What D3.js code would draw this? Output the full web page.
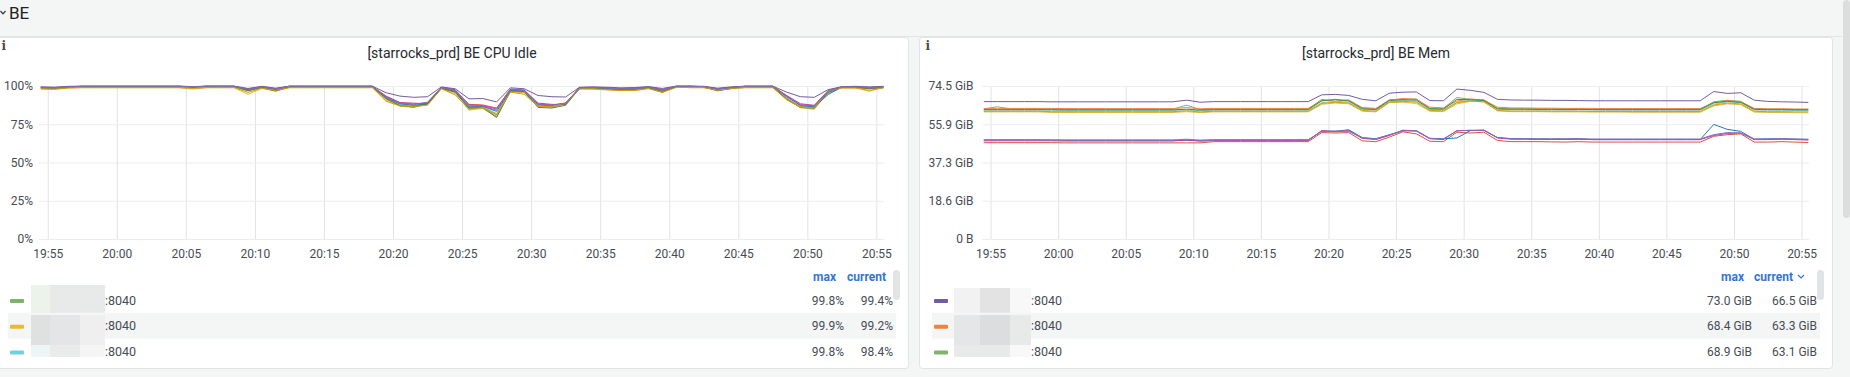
<!DOCTYPE html>
<html lang="en">
<head>
<meta charset="utf-8">
<title>BE</title>
<script src="https://d3js.org/d3.v7.min.js"></script>
<style>
  body { margin: 0; background: #f4f5f5; overflow: hidden; }
  svg { display: block; font-family: Roboto, "Noto Sans", sans-serif; }
</style>
</head>
<body>
<script>

// one sample per minute, starting 19:54:30
var startTime = new Date(2023, 0, 1, 19, 54, 30);
var stepMs = 60 * 1000;
var domainStart = new Date(2023, 0, 1, 19, 54, 22);
var domainEnd = new Date(2023, 0, 1, 20, 55, 33);

var timeTicks = ["19:55", "20:00", "20:05", "20:10", "20:15", "20:20", "20:25",
                 "20:30", "20:35", "20:40", "20:45", "20:50", "20:55"];

// BE hosts: names are masked in the source, only the port shows
var hostColors = ["#7EB26D", "#EAB839", "#6ED0E0", "#EF843C", "#E24D42", "#1F78C1",
                  "#BA43A9", "#705DA0", "#508642", "#CCA300", "#806EB7"];
var hostLabels = [":8040", ":8040", ":8040", ":8040", ":8040", ":8040",
                  ":8040", ":8040", ":8040", ":8040", ":8040"];

// ---- CPU idle (%) ----
var cpuTicks = [0, 25, 50, 75, 100];
var cpuTickLabels = ["0%", "25%", "50%", "75%", "100%"];

var cpu01 = [98.6,98.2,99.2,99.6,99.6,99.6,99.6,99.6,99.6,99.6,
             99.6,99.2,99.8,99.6,99.6,97.2,99.0,97.0,99.4,99.6,
             99.6,99.6,99.6,99.6,99.6,92.0,87.6,86.4,89.0,98.6,
             96.4,85.2,86.0,80.2,96.8,96.2,87.0,86.2,88.4,98.4,
             98.6,98.2,97.6,97.4,98.8,96.6,99.6,99.6,99.4,97.2,
             98.6,99.6,99.6,99.6,92.0,86.6,85.4,96.4,99.2,99.2,
             98.2,99.4];
var cpu02 = [98.0,97.8,98.6,98.8,98.8,98.8,98.8,98.8,98.8,98.8,
             98.8,98.0,98.8,98.8,98.8,94.6,98.4,96.8,98.8,98.8,
             98.8,98.8,98.8,98.8,98.8,90.6,86.8,86.0,88.2,98.2,
             95.0,84.2,85.4,79.8,96.2,95.6,86.4,86.6,88.0,98.0,
             98.0,97.4,97.2,97.0,98.2,96.0,99.9,98.8,98.8,97.6,
             98.2,98.8,98.8,98.8,91.2,85.8,84.8,95.6,98.6,98.6,
             96.6,99.2];
var cpu03 = [99.2,98.6,99.4,99.6,99.6,99.6,99.6,99.6,99.6,99.6,
             99.6,99.4,99.8,99.8,99.8,97.4,99.2,97.8,99.6,99.6,
             99.6,99.6,99.6,99.6,99.6,92.6,88.0,87.0,89.2,98.8,
             96.8,86.0,86.4,82.0,97.4,96.6,87.6,86.8,88.6,98.6,
             98.8,98.4,97.8,98.0,99.0,97.0,99.6,99.8,99.4,97.8,
             98.8,99.6,99.6,99.6,92.6,87.2,86.2,95.0,99.2,99.2,
             98.6,98.4];
var cpu04 = [98.4,98.2,99.0,99.4,99.4,99.4,99.4,99.4,99.4,99.4,
             99.4,99.0,99.4,99.4,99.4,96.8,98.8,97.2,99.2,99.4,
             99.4,99.4,99.4,99.4,99.4,91.4,87.2,86.8,88.6,98.4,
             95.8,85.8,86.0,81.2,96.6,96.0,86.8,86.4,88.2,98.2,
             98.2,97.8,97.2,97.6,98.6,95.8,99.4,99.4,99.2,97.4,
             98.4,99.4,99.4,99.4,91.6,86.4,85.8,96.2,99.0,99.0,
             98.0,99.0];
var cpu05 = [98.8,98.4,99.2,99.6,99.6,99.6,99.6,99.6,99.6,99.6,
             99.6,99.4,99.6,99.6,99.6,97.8,99.2,97.6,99.6,99.6,
             99.6,99.6,99.6,99.6,99.6,93.0,89.0,88.2,89.0,99.0,
             97.2,88.0,87.6,85.6,97.8,97.0,88.2,87.6,88.6,98.8,
             98.8,98.4,98.0,97.8,99.0,97.0,99.6,99.6,99.4,97.8,
             98.8,99.6,99.6,99.6,93.0,87.8,87.0,96.8,99.2,99.2,
             98.4,99.2];
var cpu06 = [99.0,98.8,99.4,99.8,99.8,99.8,99.8,99.8,99.8,99.8,
             99.8,99.6,99.8,99.8,99.8,97.6,99.4,98.0,99.8,99.8,
             99.8,99.8,99.8,99.8,99.8,92.4,88.4,87.4,88.2,98.8,
             96.4,86.4,86.8,83.4,97.0,97.2,87.8,87.0,88.8,98.8,
             99.0,98.6,98.0,98.4,99.2,97.4,99.8,99.8,99.6,98.0,
             99.0,99.8,99.8,99.8,93.6,87.2,86.4,94.4,99.4,99.4,
             98.8,99.4];
var cpu07 = [99.2,99.0,99.6,99.8,99.8,99.8,99.8,99.8,99.8,99.8,
             99.8,99.4,99.8,99.8,99.8,98.0,99.6,98.2,99.8,99.8,
             99.8,99.8,99.8,99.8,99.8,93.4,89.2,88.8,88.4,99.2,
             97.6,87.6,87.2,85.0,98.0,97.4,88.8,88.0,88.0,99.0,
             99.2,98.8,98.4,98.6,99.4,97.8,99.8,99.8,99.6,98.2,
             99.2,99.8,99.8,99.8,93.8,88.4,87.4,97.0,99.4,99.6,
             99.0,99.6];
var cpu08 = [99.4,99.2,99.8,99.9,99.9,99.9,99.9,99.9,99.9,99.9,
             99.9,99.6,99.9,99.9,99.9,98.4,99.8,98.6,99.9,99.9,
             99.9,99.9,99.9,99.9,99.9,95.6,93.4,92.6,93.0,99.4,
             98.2,91.6,91.8,89.6,98.8,98.2,93.8,93.0,92.8,99.2,
             99.4,99.2,98.8,99.0,99.6,98.4,99.9,99.9,99.8,98.6,
             99.4,99.9,99.9,99.9,96.0,93.0,92.6,97.6,99.6,99.8,
             99.4,99.8];
var cpu09 = [98.8,98.4,99.2,99.6,99.6,99.6,99.6,99.6,99.6,99.6,
             99.6,99.2,99.6,99.6,99.6,97.0,99.0,96.6,99.4,99.6,
             99.6,99.6,99.6,99.6,99.6,91.8,87.2,86.2,88.6,98.6,
             96.0,85.6,85.8,79.4,96.8,96.4,86.0,85.6,87.4,98.4,
             98.6,98.0,97.4,97.6,98.8,96.4,99.6,99.6,99.4,96.8,
             98.4,99.6,99.6,99.6,91.4,86.0,85.4,95.8,99.2,99.2,
             98.4,99.2];
var cpu10 = [98.2,98.0,98.8,99.0,99.0,99.0,99.0,99.0,99.0,99.0,
             99.0,98.4,99.0,99.0,99.0,95.8,98.6,97.0,99.0,99.0,
             99.0,99.0,99.0,99.0,99.0,90.0,87.0,86.6,87.4,98.2,
             94.2,84.8,85.8,81.4,96.0,94.6,86.8,86.8,88.8,98.2,
             98.2,97.6,97.0,97.2,98.4,95.8,99.0,99.0,99.0,97.2,
             98.4,99.0,99.0,99.0,91.0,86.2,85.6,96.6,98.8,98.8,
             97.0,98.8];
var cpu11 = [99.0,98.8,99.4,99.8,99.8,99.8,99.8,99.8,99.8,99.8,
             99.8,99.4,99.8,99.8,99.8,97.8,99.4,98.0,99.8,99.8,
             99.8,99.8,99.8,99.8,99.8,92.8,88.6,88.0,89.4,99.0,
             97.0,87.0,86.8,84.2,97.6,96.8,88.0,87.4,89.0,98.8,
             99.0,98.6,98.2,98.2,99.2,97.2,99.8,99.8,99.6,98.0,
             99.0,99.8,99.8,99.8,93.2,87.6,86.8,96.4,99.4,99.4,
             98.8,99.4];

// ---- memory used (GiB) ----
var memTicks = [0, 18.625, 37.25, 55.875, 74.5];
var memTickLabels = ["0 B", "18.6 GiB", "37.3 GiB", "55.9 GiB", "74.5 GiB"];

var mem01 = [63.3,64.4,63.3,63.3,63.3,63.3,63.2,63.2,63.2,63.2,
             63.2,63.2,63.2,63.2,63.2,65.2,63.0,63.3,63.3,63.3,
             63.3,63.3,63.3,63.3,63.3,68.0,67.0,67.8,63.8,63.3,
             67.8,68.0,68.2,63.6,63.6,68.9,68.0,67.8,63.6,63.4,
             63.4,63.4,63.3,63.3,63.4,63.2,63.2,63.2,63.2,63.2,
             63.2,63.2,63.2,63.2,66.8,67.6,67.0,63.4,63.2,63.2,
             63.1,63.1];
var mem02 = [61.9,61.9,61.9,61.9,61.9,61.6,61.6,61.6,61.6,61.6,
             61.6,61.6,61.6,61.6,61.6,62.0,61.5,61.9,61.9,61.9,
             61.9,61.9,61.9,61.9,61.9,65.6,66.2,65.8,62.2,61.9,
             66.4,66.6,66.0,62.2,62.0,65.8,67.0,66.8,62.4,62.0,
             62.0,62.0,61.9,61.9,61.9,61.8,61.8,61.8,61.7,61.7,
             61.7,61.7,61.7,61.7,64.8,65.8,65.4,61.8,61.6,61.6,
             61.5,61.5];
var mem03 = [62.7,62.7,62.7,62.7,62.7,62.7,62.6,62.6,62.6,62.6,
             62.6,62.6,62.6,62.6,62.6,62.8,62.5,62.7,62.7,62.7,
             62.7,62.7,62.7,62.7,62.7,66.4,67.0,66.6,63.0,62.8,
             66.8,67.4,67.0,63.0,62.9,66.6,67.6,67.2,63.2,62.9,
             62.9,62.8,62.8,62.8,62.8,62.8,62.7,62.7,62.7,62.7,
             62.7,62.7,62.7,62.7,65.6,66.8,66.4,62.8,62.7,62.7,
             62.6,62.6];
var mem04 = [63.6,63.6,63.6,63.6,63.6,63.6,63.5,63.5,63.5,63.5,
             63.5,63.5,63.5,63.5,63.5,64.0,63.4,63.6,63.6,63.6,
             63.6,63.6,63.6,63.6,63.6,67.2,68.0,67.4,64.0,63.6,
             67.6,68.4,68.0,64.2,63.8,67.2,68.2,67.6,64.2,63.8,
             63.8,63.7,63.7,63.6,63.6,63.6,63.5,63.5,63.5,63.5,
             63.5,63.5,63.5,63.5,66.2,67.4,66.8,63.6,63.4,63.4,
             63.3,63.3];
var mem05 = [46.9,46.9,46.9,46.9,46.9,46.9,46.8,46.8,46.8,46.8,
             46.8,46.8,46.8,46.8,46.8,46.8,46.8,47.4,47.4,47.4,
             47.4,47.4,47.4,47.4,47.4,51.8,51.6,51.8,47.8,47.4,
             49.6,52.2,51.2,47.6,47.4,52.0,51.6,52.0,48.0,47.4,
             47.4,47.4,47.3,47.2,47.4,47.2,47.2,47.2,47.2,47.2,
             47.2,47.2,47.2,47.2,50.0,50.8,51.2,47.2,47.2,47.4,
             47.2,47.0];
var mem06 = [48.2,48.2,48.2,48.2,48.2,48.2,48.1,48.1,48.1,48.1,
             48.1,48.1,48.1,48.1,48.1,48.0,48.0,48.2,48.2,48.2,
             48.2,48.2,48.2,48.2,48.2,52.6,52.4,53.2,49.4,48.8,
             50.6,52.8,52.6,49.0,48.8,49.2,52.8,53.0,49.4,48.8,
             48.8,48.6,48.6,48.6,48.6,48.4,48.4,48.4,48.4,48.4,
             48.4,48.4,48.4,48.4,55.8,53.4,52.4,48.6,48.6,48.8,
             48.6,48.4];
var mem07 = [47.8,47.8,47.8,47.8,47.8,47.8,47.7,47.7,47.7,47.7,
             47.7,47.7,47.7,47.7,47.7,48.2,47.6,47.9,47.9,47.9,
             47.9,47.9,47.9,47.9,47.9,52.8,52.2,52.8,49.0,48.4,
             50.4,53.0,52.6,48.8,48.4,52.8,52.8,53.0,49.2,48.6,
             48.6,48.5,48.5,48.5,48.6,48.4,48.4,48.4,48.4,48.4,
             48.4,48.4,48.4,48.4,50.4,51.4,51.6,48.4,48.4,48.6,
             48.4,48.2];
var mem08 = [66.9,66.9,66.9,66.9,66.9,66.8,66.8,66.8,66.8,66.8,
             66.8,66.8,66.8,66.8,66.8,67.6,66.6,66.9,66.9,66.9,
             66.9,66.9,66.9,66.9,66.9,70.2,70.4,69.9,68.0,67.3,
             71.0,71.5,71.6,67.4,67.3,73.0,72.4,71.4,68.0,67.7,
             67.6,67.6,67.5,67.5,67.4,67.3,67.3,67.3,67.3,67.3,
             67.3,67.3,67.3,67.3,71.8,70.9,71.2,67.6,67.0,66.8,
             66.7,66.5];
var mem09 = [63.0,63.0,63.0,63.0,63.0,63.0,62.9,62.9,62.9,62.9,
             62.9,62.9,62.9,62.9,62.9,63.2,62.8,63.0,63.0,63.0,
             63.0,63.0,63.0,63.0,63.0,67.4,67.8,67.2,63.4,63.0,
             67.4,67.8,67.6,63.4,63.2,68.0,67.8,67.4,63.4,63.2,
             63.2,63.1,63.1,63.0,63.1,63.0,63.0,63.0,63.0,63.0,
             63.0,63.0,63.0,63.0,66.4,67.0,66.6,63.1,63.0,63.0,
             62.9,62.9];
var mem10 = [62.2,62.2,62.2,62.2,62.2,62.0,62.0,62.0,62.0,62.0,
             62.0,62.0,62.0,62.0,62.0,62.4,61.9,62.2,62.2,62.2,
             62.2,62.2,62.2,62.2,62.2,66.0,66.6,66.2,62.6,62.2,
             66.6,67.0,66.6,62.6,62.4,66.4,67.2,66.8,62.6,62.3,
             62.3,62.3,62.2,62.2,62.2,62.1,62.1,62.1,62.1,62.1,
             62.1,62.1,62.1,62.1,65.2,66.2,65.8,62.2,62.0,62.0,
             61.9,61.9];
var mem11 = [48.3,48.3,48.3,48.3,48.3,48.2,48.2,48.2,48.2,48.2,
             48.2,48.2,48.2,48.2,48.2,48.6,48.1,48.3,48.3,48.3,
             48.3,48.3,48.3,48.3,48.3,52.4,52.6,52.4,49.2,48.8,
             50.8,52.6,52.8,49.0,48.8,52.6,53.0,52.8,49.4,48.9,
             48.9,48.8,48.8,48.8,48.9,48.7,48.7,48.7,48.7,48.7,
             48.7,48.7,48.7,48.7,50.8,51.8,51.6,48.7,48.8,48.8,
             48.7,48.6];

var cpuSeries = [cpu01, cpu02, cpu03, cpu04, cpu05, cpu06, cpu07, cpu08, cpu09, cpu10, cpu11];
var memSeries = [mem01, mem02, mem03, mem04, mem05, mem06, mem07, mem08, mem09, mem10, mem11];

var W = 1850, H = 377;
var plotTop = 86, plotBottom = 239;

var svg = d3.select("body").append("svg")
    .attr("width", W)
    .attr("height", H);

svg.append("rect").attr("width", W).attr("height", H).attr("fill", "#f4f5f5");

// row header "BE"
svg.append("path")
    .attr("d", "M0.5,11 L3,13.8 L5.5,11")
    .attr("fill", "none").attr("stroke", "#333").attr("stroke-width", 1.2);
svg.append("text")
    .attr("x", 9).attr("y", 18.5)
    .attr("font-size", 17).attr("fill", "#202226")
    .text("BE");
svg.append("line")
    .attr("x1", 0).attr("x2", 1842).attr("y1", 36.5).attr("y2", 36.5)
    .attr("stroke", "#e3e5e5");

// page scrollbar
svg.append("rect")
    .attr("x", 1843).attr("y", 0).attr("width", 7).attr("height", 218)
    .attr("rx", 3.5).attr("fill", "#dcdddd");

var parseHM = d3.timeParse("%H:%M");
var tickDates = timeTicks.map(function(s) {
    var t = parseHM(s);
    return new Date(2023, 0, 1, t.getHours(), t.getMinutes());
});

function timeAt(i) {
    return new Date(startTime.getTime() + i * stepMs);
}

var panels = [
    {
        left: -5, width: 914, plotL: 39, plotR: 884, yPad: 6,
        title: "[starrocks_prd] BE CPU Idle",
        series: cpuSeries, yMax: 100, ticks: cpuTicks, tickLabels: cpuTickLabels,
        fmt: function(v) { return v.toFixed(1) + "%"; },
        sortByCurrent: false,
        maxX: 844, curX: 893, headMaxX: 836, headCurX: 886, chevron: false,
        mosaicX: [31, 50, 80, 105], textX: 105,
        mosaic: [["#ebf3ea", "#e8e9e9", "#e8e9e9"],
                 ["#dfe0e0", "#e4e5e7", "#efefef"],
                 ["#eef6f5", "#e9eaea", "#f5f5f5"]],
        mosaicTop: 285
    },
    {
        left: 919, width: 914, plotL: 982, plotR: 1809, yPad: 8.5,
        title: "[starrocks_prd] BE Mem",
        series: memSeries, yMax: 74.5, ticks: memTicks, tickLabels: memTickLabels,
        fmt: function(v) { return v.toFixed(1) + " GiB"; },
        sortByCurrent: true,
        maxX: 1752, curX: 1817, headMaxX: 1744, headCurX: 1793, chevron: true,
        mosaicX: [954, 980, 1010, 1031], textX: 1031,
        mosaic: [["#f2f2f2", "#e3e3e3", "#f8f8f8"],
                 ["#e5e6e7", "#dcdddf", "#e8e9e9"],
                 ["#e8e9e9", "#e8e9e9", "#f8f8f8"]],
        mosaicTop: 288
    }
];

panels.forEach(function(p, pi) {
    var g = svg.append("g");
    var right = p.left + p.width;

    g.append("rect")
        .attr("x", p.left + 0.5).attr("y", 37.5)
        .attr("width", p.width - 1).attr("height", 331)
        .attr("rx", 3)
        .attr("fill", "#fff").attr("stroke", "#e1e4e4");

    // info icon
    g.append("text")
        .attr("x", p.left + 6.5).attr("y", 50)
        .attr("font-family", "DejaVu Serif")
        .attr("font-weight", "bold").attr("font-size", 12)
        .attr("fill", "#4a4a4a")
        .text("i");

    g.append("text")
        .attr("x", p.left + p.width / 2).attr("y", 58)
        .attr("text-anchor", "middle")
        .attr("font-size", 14)
        .attr("fill", "#24292e")
        .text(p.title);

    var x = d3.scaleTime().domain([domainStart, domainEnd]).range([p.plotL, p.plotR]);
    var y = d3.scaleLinear().domain([0, p.yMax]).range([plotBottom, plotTop]);

    // grid
    var vgrid = g.append("g")
        .attr("transform", "translate(0," + plotBottom + ")")
        .call(d3.axisBottom(x).tickValues(tickDates).tickSize(-(plotBottom - plotTop)).tickFormat(""));
    vgrid.select(".domain").remove();
    vgrid.selectAll("line").attr("stroke", "#e2e2e2");

    var hgrid = g.append("g")
        .attr("transform", "translate(" + p.plotL + ",0)")
        .call(d3.axisLeft(y).tickValues(p.ticks).tickSize(-(p.plotR - p.plotL)).tickFormat(""));
    hgrid.select(".domain").remove();
    hgrid.selectAll("line").attr("stroke", "#ededed");

    // axes labels
    var xa = g.append("g")
        .attr("transform", "translate(0," + plotBottom + ")")
        .call(d3.axisBottom(x).tickValues(tickDates).tickSize(0).tickPadding(10)
            .tickFormat(d3.timeFormat("%H:%M")));
    xa.select(".domain").remove();
    xa.selectAll("text").attr("font-size", 12).attr("font-family", "Roboto").attr("fill", "#464c54");

    var ya = g.append("g")
        .attr("transform", "translate(" + p.plotL + ",0)")
        .call(d3.axisLeft(y).tickValues(p.ticks).tickSize(0).tickPadding(p.yPad)
            .tickFormat(function(d, i) { return p.tickLabels[i]; }));
    ya.select(".domain").remove();
    ya.selectAll("text").attr("font-size", 12).attr("font-family", "Roboto").attr("fill", "#464c54");

    // lines
    var clipId = "clip" + pi;
    g.append("clipPath").attr("id", clipId)
        .append("rect")
        .attr("x", p.plotL).attr("y", plotTop - 3)
        .attr("width", p.plotR - p.plotL).attr("height", plotBottom - plotTop + 3);

    var line = d3.line()
        .x(function(d, i) { return x(timeAt(i)); })
        .y(function(d) { return y(d); });

    g.append("g").attr("clip-path", "url(#" + clipId + ")")
        .selectAll("path")
        .data(p.series)
        .enter()
        .append("path")
        .attr("d", line)
        .attr("fill", "none")
        .attr("stroke", function(d, i) { return hostColors[i]; })
        .attr("stroke-width", 1);

    // legend
    var rows = p.series.map(function(s, i) {
        return { idx: i, max: d3.max(s), cur: s[s.length - 1] };
    });
    if (p.sortByCurrent) {
        rows.sort(function(a, b) { return b.cur - a.cur; });
    }
    rows = rows.slice(0, 3);

    g.append("text")
        .attr("x", p.headMaxX).attr("y", 281)
        .attr("text-anchor", "end")
        .attr("font-size", 12).attr("font-weight", "bold").attr("fill", "#3274d9")
        .text("max");
    g.append("text")
        .attr("x", p.headCurX).attr("y", 281)
        .attr("text-anchor", "end")
        .attr("font-size", 12).attr("font-weight", "bold").attr("fill", "#3274d9")
        .text("current");
    if (p.chevron) {
        g.append("path")
            .attr("d", "M" + (p.headCurX + 5) + ",275 l3,3 l3,-3")
            .attr("fill", "none").attr("stroke", "#3274d9").attr("stroke-width", 1.2);
    }

    // legend scroll thumb
    g.append("rect")
        .attr("x", right - 16).attr("y", 270)
        .attr("width", 7).attr("height", 30).attr("rx", 3.5)
        .attr("fill", "#e2e3e4");

    var rowH = 25.7;
    var rowG = g.selectAll(".leg").data(rows).enter()
        .append("g").attr("class", "leg")
        .attr("transform", function(d, i) { return "translate(0," + (300 + i * rowH) + ")"; });

    rowG.filter(function(d, i) { return i === 1; })
        .append("rect")
        .attr("x", p.left + 13).attr("y", -13)
        .attr("width", p.width - 26).attr("height", 26)
        .attr("fill", "#f4f5f5");

    rowG.append("rect")
        .attr("x", p.left + 15).attr("y", -1)
        .attr("width", 14).attr("height", 4).attr("rx", 1)
        .attr("fill", function(d) { return hostColors[d.idx]; });

    // masked host names
    rowG.each(function(d, i) {
        var r = d3.select(this);
        var top = p.mosaicTop + (i === 0 ? 0 : (315 - p.mosaicTop) + (i - 1) * 30) - (300 + i * rowH);
        var h = i === 0 ? 315 - p.mosaicTop : (i === 1 ? 30 : 12);
        for (var k = 0; k < 3; k++) {
            r.append("rect")
                .attr("x", p.mosaicX[k]).attr("y", top)
                .attr("width", p.mosaicX[k + 1] - p.mosaicX[k]).attr("height", h)
                .attr("fill", p.mosaic[i][k]);
        }
    });

    rowG.append("text")
        .attr("x", p.textX).attr("y", 4.5)
        .attr("font-size", 12.5).attr("fill", "#464c54")
        .text(function(d) { return hostLabels[d.idx]; });

    rowG.append("text")
        .attr("x", p.maxX).attr("y", 4.5)
        .attr("text-anchor", "end")
        .attr("font-size", 12).attr("fill", "#464c54")
        .text(function(d) { return p.fmt(d.max); });

    rowG.append("text")
        .attr("x", p.curX).attr("y", 4.5)
        .attr("text-anchor", "end")
        .attr("font-size", 12).attr("fill", "#464c54")
        .text(function(d) { return p.fmt(d.cur); });
});

</script>
</body>
</html>
